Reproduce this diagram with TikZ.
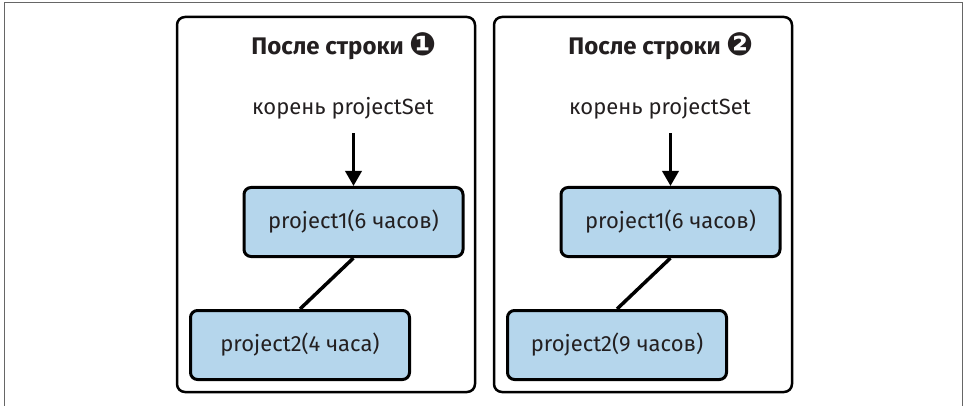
\documentclass[tikz,border=0pt]{standalone}
\usepackage{fontspec}
\setmainfont{Fira Sans}
\newfontfamily\numfont{DejaVu Sans}
\usetikzlibrary{arrows.meta}
\definecolor{projblue}{HTML}{B5D6EC}
\definecolor{ink}{HTML}{231F20}
\tikzset{
  panel/.style={draw=black, line width=2.5pt, rounded corners=8pt},
  projbox/.style={draw=black, fill=projblue, line width=3pt, rounded corners=7pt,
    minimum width=219pt, minimum height=69pt, text=ink, font=\fontsize{22}{26}\selectfont},
  rootlabel/.style={anchor=base, text=ink, font=\fontsize{22}{26}\selectfont},
  paneltitle/.style={anchor=base, text=ink, font=\bfseries\fontsize{24}{28}\selectfont},
  link/.style={line width=3.5pt},
}
\begin{document}
\begin{tikzpicture}[x=1pt, y=-1pt, >={Triangle[length=15pt,width=16pt]}]
\useasboundingbox (0,0) rectangle (966,406);
\draw[black!60, line width=1pt] (4,406) -- (4,3) -- (962,3) -- (962,406);

% after line 1
\draw[panel] (177,17) rectangle (475,392);
\node[paneltitle] (title1) at (344,55) {После строки {\numfont\fontsize{32}{32}\selectfont\raisebox{-1pt}{❶}}};
\node[rootlabel] (root1) at (343,115) {корень projectSet};
\node[projbox] (proj1a) at (353.5,222) {project1(6 часов)};
\node[projbox] (proj2a) at (300,345) {project2(4 часа)};
\draw[->, link, shorten <=10pt] (root1.south -| proj1a.north) -- (proj1a.north);
\draw[link] (proj1a.south) -- (proj2a.north);

% after line 2
\draw[panel] (494,17) rectangle (792,392);
\node[paneltitle] (title2) at (661,55) {После строки {\numfont\fontsize{32}{32}\selectfont\raisebox{-1pt}{❷}}};
\node[rootlabel] (root2) at (660,115) {корень projectSet};
\node[projbox] (proj1b) at (670.5,222) {project1(6 часов)};
\node[projbox] (proj2b) at (617,345) {project2(9 часов)};
\draw[->, link, shorten <=10pt] (root2.south -| proj1b.north) -- (proj1b.north);
\draw[link] (proj1b.south) -- (proj2b.north);
\end{tikzpicture}
\end{document}
